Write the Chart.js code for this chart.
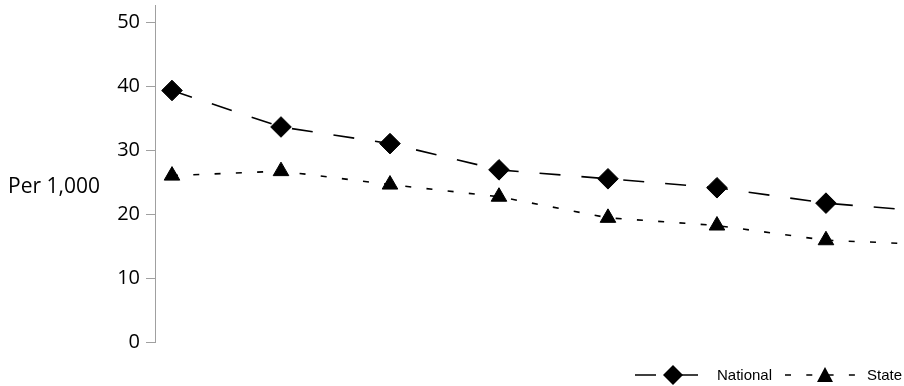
<!DOCTYPE html>
<html>
<head>
<meta charset="utf-8">
<script src="https://cdn.jsdelivr.net/npm/chart.js@4.4.1/dist/chart.umd.min.js"></script>
<style>
  html, body { margin: 0; padding: 0; background: #ffffff; overflow: hidden; }
  #wrap { position: relative; width: 904px; height: 386px; }
</style>
</head>
<body>
<div id="wrap"><canvas id="chart" width="904" height="386"></canvas></div>
<script>
// ---- data ----
const categories = ['1', '2', '3', '4', '5', '6', '7', '8']; // periods (unlabelled in the source)
const seriesNames = ['National', 'State'];
const nationalValues = [39.3, 33.6, 31.0, 26.9, 25.5, 24.1, 21.7, 20.3];
const stateValues = [26.0, 26.7, 24.6, 22.7, 19.4, 18.2, 15.9, 15.2];
const yTickValues = [0, 10, 20, 30, 40, 50];
const yAxisLabel = 'Per 1,000';

const toPoints = (vals) => categories.map((c, i) => ({ x: i, y: vals[i] }));
const zeroPadding = (s) => { s.paddingTop = 0; s.paddingBottom = 0; s.paddingLeft = 0; s.paddingRight = 0; };

const decorPlugin = {
  id: 'decor',
  afterDraw(chart) {
    const ctx = chart.ctx;
    ctx.save();
    ctx.fillStyle = '#000';
    ctx.font = '21px "Open Sans"';
    ctx.textAlign = 'left';
    ctx.textBaseline = 'alphabetic';
    ctx.fillText(yAxisLabel, 8, 193);

    const ds = chart.data.datasets;
    const ly = 375;
    const items = [
      { d: ds[0], x0: 635, x1: 700, mx: 673, tx: 717 },
      { d: ds[1], x0: 785, x1: 858, mx: 825, tx: 867 }
    ];
    items.forEach(it => {
      ctx.save();
      ctx.strokeStyle = it.d.borderColor;
      ctx.lineWidth = it.d.borderWidth;
      ctx.setLineDash(it.d.borderDash);
      ctx.beginPath();
      ctx.moveTo(it.x0, ly);
      ctx.lineTo(it.x1, ly);
      ctx.stroke();
      ctx.setLineDash([]);
      ctx.fillStyle = it.d.pointBackgroundColor;
      ctx.beginPath();
      if (it.d.pointStyle === 'rectRot') {
        const r = 10;
        ctx.moveTo(it.mx - r, ly);
        ctx.lineTo(it.mx, ly - r);
        ctx.lineTo(it.mx + r, ly);
        ctx.lineTo(it.mx, ly + r);
      } else {
        ctx.moveTo(it.mx, ly - 8);
        ctx.lineTo(it.mx + 8, ly + 7);
        ctx.lineTo(it.mx - 8, ly + 7);
      }
      ctx.closePath();
      ctx.fill();
      ctx.restore();
      ctx.fillStyle = '#000';
      ctx.font = '15px "Liberation Sans"';
      ctx.textAlign = 'left';
      ctx.textBaseline = 'alphabetic';
      ctx.fillText(it.d.label, it.tx, 380);
    });
    ctx.restore();
  }
};

new Chart(document.getElementById('chart'), {
  type: 'line',
  data: {
    datasets: [
      {
        label: seriesNames[0],
        data: toPoints(nationalValues),
        borderColor: '#000',
        borderWidth: 1.6,
        borderDash: [21, 21],
        pointStyle: 'rectRot',
        pointRadius: 10.3,
        pointBackgroundColor: '#000',
        pointBorderColor: '#000',
        pointBorderWidth: 1,
        tension: 0
      },
      {
        label: seriesNames[1],
        data: toPoints(stateValues),
        borderColor: '#000',
        borderWidth: 1.6,
        borderDash: [6, 15.3],
        pointStyle: 'triangle',
        pointRadius: 9,
        pointBackgroundColor: '#000',
        pointBorderColor: '#000',
        pointBorderWidth: 1,
        tension: 0
      }
    ]
  },
  options: {
    responsive: false,
    animation: false,
    layout: { autoPadding: false, padding: { top: 5, bottom: 44, left: 0, right: 0 } },
    plugins: { legend: { display: false }, tooltip: { enabled: false } },
    scales: {
      x: {
        type: 'linear',
        display: false,
        min: -0.156,
        max: 6.716,
        afterFit: zeroPadding
      },
      y: {
        type: 'linear',
        min: 0,
        max: 52.66,
        afterFit: (scale) => { scale.width = 155; zeroPadding(scale); },
        afterBuildTicks: (scale) => { scale.ticks = yTickValues.map(v => ({ value: v })); },
        border: { display: true, color: '#a0a0a0', width: 1 },
        grid: { display: true, drawOnChartArea: false, drawTicks: true, tickLength: 9, color: '#a0a0a0', lineWidth: 1 },
        ticks: {
          padding: 6,
          color: '#000',
          font: { family: '"Open Sans"', size: 20 },
          callback: (v) => String(v)
        }
      }
    }
  },
  plugins: [decorPlugin]
});
</script>
</body>
</html>
